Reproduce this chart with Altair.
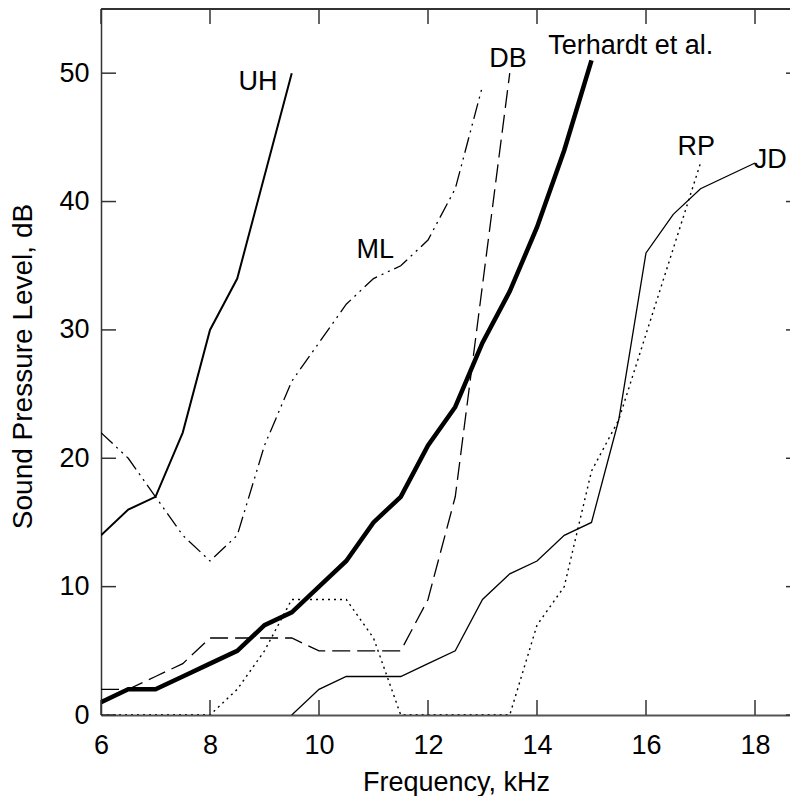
import altair as alt
import pandas as pd

# ---- data ----
uh_x = [6, 6.5, 7, 7.5, 8, 8.5, 9.5]
uh_y = [14, 16, 17, 22, 30, 34, 50]

ml_x = [6, 6.5, 7, 7.5, 8, 8.5, 9, 9.5, 10, 10.5, 11, 11.5, 12, 12.5, 13]
ml_y = [22, 20, 17, 14, 12, 14, 21, 26, 29, 32, 34, 35, 37, 41, 49]

db_x = [6, 6.5, 7, 7.5, 8, 8.5, 9, 9.5, 10, 10.5, 11, 11.5, 12, 12.5, 13.5]
db_y = [2, 2, 3, 4, 6, 6, 6, 6, 5, 5, 5, 5, 9, 17, 50]

te_x = [6, 6.5, 7, 7.5, 8, 8.5, 9, 9.5, 10, 10.5, 11, 11.5, 12, 12.5, 13, 13.5, 14, 14.5, 15]
te_y = [1, 2, 2, 3, 4, 5, 7, 8, 10, 12, 15, 17, 21, 24, 29, 33, 38, 44, 51]

rp_x = [6, 8, 8.5, 9, 9.5, 10, 10.5, 11, 11.5, 13.5, 14, 14.5, 15, 15.5, 17]
rp_y = [0, 0, 2, 5, 9, 9, 9, 6, 0, 0, 7, 10, 19, 23, 43]

jd_x = [9.5, 10, 10.5, 11, 11.5, 12, 12.5, 13, 13.5, 14, 14.5, 15, 15.5, 16, 16.5, 17, 18]
jd_y = [0, 2, 3, 3, 3, 4, 5, 9, 11, 12, 14, 15, 23, 36, 39, 41, 43]

label_text = ["UH", "ML", "DB", "Terhardt et al.", "RP", "JD"]
label_x = [8.88, 11.03, 13.47, 15.72, 16.92, 18.28]
label_y = [48.7, 35.6, 50.5, 51.5, 43.6, 42.6]

x_ticks = [6, 8, 10, 12, 14, 16, 18]
y_ticks = [0, 10, 20, 30, 40, 50]

# ---- layout ----
W, H = 689, 706
FONT = "Liberation Sans"
FS = 27

xscale = alt.Scale(domain=[6, 6 + W / 54.5], nice=False, zero=False)
yscale = alt.Scale(domain=[0, 55], nice=False, zero=False)

xaxis = alt.Axis(values=x_ticks, ticks=False, grid=False, domainColor="#555555",
                 domainWidth=2, labelFont=FONT, labelFontSize=FS, labelColor="black",
                 labelPadding=17, labelFlush=False, title="Frequency, kHz",
                 titleFont=FONT, titleFontSize=FS, titleFontWeight="normal",
                 titleColor="black", titleX=355, titleY=75,
                 titleBaseline="alphabetic", titleAlign="center")
yaxis = alt.Axis(values=y_ticks, ticks=False, grid=False, domainColor="#333333",
                 domainWidth=1.5, labelFont=FONT, labelFontSize=FS, labelColor="black",
                 labelPadding=12, labelFlush=False, title="Sound Pressure Level, dB",
                 titleFont=FONT, titleFontSize=FS + 1, titleFontWeight="normal",
                 titleColor="black", titleX=-70, titleY=H / 2 + 4,
                 titleBaseline="alphabetic", titleAlign="center", titleAngle=270)


def series(xs, ys, width, dash=None):
    df = pd.DataFrame({"x": xs, "y": ys})
    kw = dict(color="black", strokeWidth=width, clip=True)
    if dash is not None:
        kw["strokeDash"] = dash
    return alt.Chart(df).mark_line(**kw).encode(
        x=alt.X("x:Q", scale=xscale, axis=xaxis),
        y=alt.Y("y:Q", scale=yscale, axis=yaxis),
    )


lines = [
    series(uh_x, uh_y, 2),
    series(ml_x, ml_y, 1.3, [16, 5, 2, 5, 2, 5]),
    series(db_x, db_y, 1.3, [18, 7]),
    series(rp_x, rp_y, 1.4, [2, 4]),
    series(jd_x, jd_y, 1.3),
    series(te_x, te_y, 4.5),
]

xt = pd.DataFrame({"x": x_ticks})
yt = pd.DataFrame({"y": y_ticks})
tick_style = dict(color="#333333", strokeWidth=1.5)

bottom_ticks = alt.Chart(xt).mark_rule(**tick_style).encode(
    x=alt.X("x:Q", scale=xscale, axis=xaxis), y=alt.value(H), y2=alt.value(H - 15))
top_ticks = alt.Chart(xt).mark_rule(**tick_style).encode(
    x=alt.X("x:Q", scale=xscale, axis=xaxis), y=alt.value(0), y2=alt.value(15))
left_ticks = alt.Chart(yt).mark_rule(**tick_style).encode(
    y=alt.Y("y:Q", scale=yscale, axis=yaxis), x=alt.value(0), x2=alt.value(15))
right_ticks = alt.Chart(yt).mark_rule(**tick_style).encode(
    y=alt.Y("y:Q", scale=yscale, axis=yaxis), x=alt.value(W - 4), x2=alt.value(W))
top_border = alt.Chart(xt).mark_rule(color="#333333", strokeWidth=1.5).encode(
    x=alt.value(0), x2=alt.value(W), y=alt.value(0))

labels_df = pd.DataFrame({"t": label_text, "x": label_x, "y": label_y})
labels = alt.Chart(labels_df).mark_text(
    font=FONT, fontSize=FS, color="black", align="center", baseline="alphabetic"
).encode(
    x=alt.X("x:Q", scale=xscale, axis=xaxis),
    y=alt.Y("y:Q", scale=yscale, axis=yaxis),
    text="t:N",
)

chart = alt.layer(
    *lines, bottom_ticks, top_ticks, left_ticks, right_ticks, top_border, labels
).properties(
    width=W, height=H,
    padding={"left": 93, "top": 1, "right": 0, "bottom": 81},
    autosize=alt.AutoSizeParams(type="none"),
    background="white",
).configure_view(strokeWidth=0)

chart.save("out.html", embed_options={"renderer": "svg", "actions": False})
